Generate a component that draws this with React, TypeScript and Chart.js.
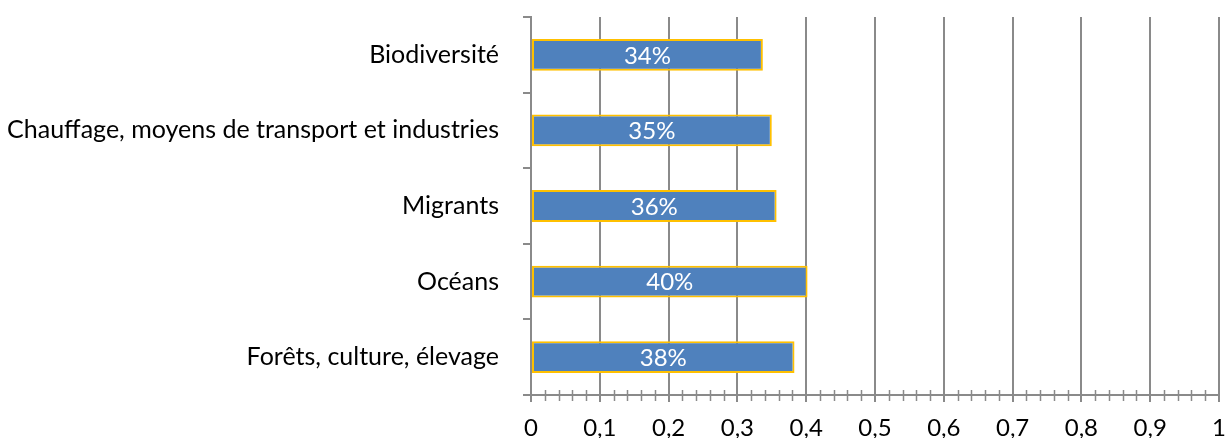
import React, { useEffect, useRef } from "react";
import { Chart, registerables } from "chart.js";

Chart.register(...registerables);

const categories = [
  "Biodiversité",
  "Chauffage, moyens de transport et industries",
  "Migrants",
  "Océans",
  "Forêts, culture, élevage",
];
const values = [0.337, 0.35, 0.357, 0.402, 0.383];
const valueLabels = ["34%", "35%", "36%", "40%", "38%"];
const xMin = 0;
const xMax = 1;
const majorStep = 0.1;
const minorStep = 0.02;

const FONT = "Lato, 'Open Sans', sans-serif";
const GRID = "#8a8a8a";

const minorTicksPlugin = {
  id: "minorTicks",
  afterDraw(chart: any) {
    const xs = chart.scales.x;
    const ctx = chart.ctx;
    const yAxis = chart.chartArea.bottom;
    ctx.save();
    ctx.strokeStyle = GRID;
    ctx.lineWidth = 1.5;
    const n = Math.round((xMax - xMin) / minorStep);
    for (let i = 1; i < n; i++) {
      if (i % Math.round(majorStep / minorStep) === 0) continue;
      const v = xMin + i * minorStep;
      const px = Math.round(xs.getPixelForValue(v)) + 0.5;
      ctx.beginPath();
      ctx.moveTo(px, yAxis - 5);
      ctx.lineTo(px, yAxis + 6);
      ctx.stroke();
    }
    ctx.restore();
  },
};

const barLabelPlugin = {
  id: "barLabels",
  afterDatasetsDraw(chart: any) {
    const ctx = chart.ctx;
    const meta = chart.getDatasetMeta(0);
    ctx.save();
    ctx.fillStyle = "#ffffff";
    ctx.font = `24px ${FONT}`;
    ctx.textAlign = "center";
    ctx.textBaseline = "middle";
    meta.data.forEach((el: any, i: number) => {
      const p = el.getProps(["x", "y", "base"], true);
      ctx.fillText(valueLabels[i], (p.x + p.base) / 2, p.y + 1);
    });
    ctx.restore();
  },
};

export default function App() {
  const ref = useRef<HTMLCanvasElement | null>(null);
  useEffect(() => {
    document.body.style.margin = "0";
    if (!ref.current) return;
    const chart = new Chart(ref.current, {
      type: "bar",
      data: {
        labels: categories,
        datasets: [
          {
            data: values,
            backgroundColor: "#4F81BD",
            borderColor: "#FFC000",
            borderWidth: 2,
            borderSkipped: false,
            barPercentage: 0.42,
            categoryPercentage: 1,
          },
        ],
      },
      options: {
        indexAxis: "y",
        animation: false,
        responsive: true,
        maintainAspectRatio: false,
        layout: { padding: { top: 17, right: 6, bottom: 0, left: 0 } },
        plugins: {
          legend: { display: false },
          tooltip: { enabled: false },
        },
        scales: {
          x: {
            type: "linear",
            min: xMin,
            max: xMax,
            afterFit(scale: any) {
              scale.height = 43;
              scale.paddingLeft = 0;
              scale.paddingRight = 0;
            },
            ticks: {
              stepSize: majorStep,
              color: "#000",
              font: { family: FONT, size: 24 },
              padding: 12,
              maxRotation: 0,
              callback: (v: any) => String(Math.round(Number(v) * 10) / 10).replace(".", ","),
            },
            grid: {
              color: GRID,
              lineWidth: 2,
              drawTicks: true,
              tickLength: 7,
              tickColor: GRID,
            },
            border: { display: true, color: GRID, width: 2 },
          },
          y: {
            type: "category",
            offset: true,
            afterFit(scale: any) {
              scale.width = 531;
              scale.paddingTop = 0;
              scale.paddingBottom = 0;
            },
            ticks: {
              color: "#000",
              font: { family: FONT, size: 25 },
              padding: 24,
            },
            grid: {
              offset: true,
              drawOnChartArea: false,
              drawTicks: true,
              tickLength: 8,
              tickColor: GRID,
              lineWidth: 2,
            },
            border: { display: true, color: GRID, width: 2 },
          },
        },
      },
      plugins: [minorTicksPlugin, barLabelPlugin],
    });
    return () => chart.destroy();
  }, []);
  return (
    <div style={{ width: 1225, height: 438, position: "relative" }}>
      <canvas ref={ref} />
    </div>
  );
}
